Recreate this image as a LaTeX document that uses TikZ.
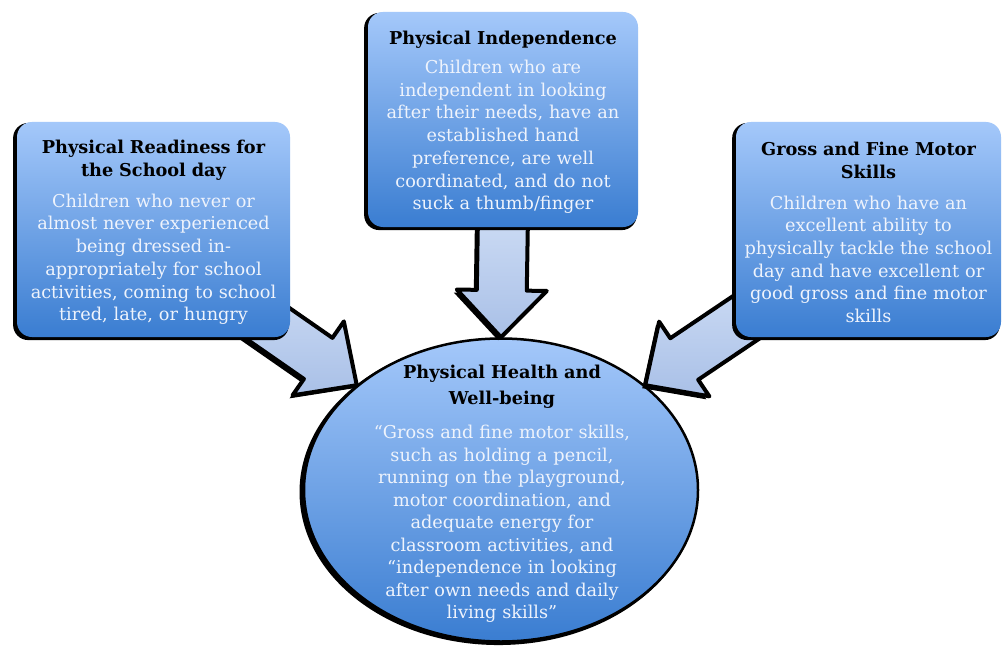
\documentclass[tikz,border=0pt]{standalone}
\usepackage{fontspec}
\setmainfont{DejaVu Serif}
\usetikzlibrary{calc,shadows,shapes.geometric}

\definecolor{boxtop}{HTML}{A4C8FA}
\definecolor{boxbottom}{HTML}{3A7DD1}
\definecolor{arrowtop}{HTML}{CCDBF4}
\definecolor{arrowbottom}{HTML}{A9C0E7}
\definecolor{bodytext}{HTML}{EEF3FC}

\newcommand{\blockarrow}[2]{% base, tip
  \path ($(#2)!47pt!(#1)$) coordinate (neck);
  \draw[fatarrow] ($(#1)!25pt!90:(#2)$) -- ($(neck)!25pt!90:(#2)$) -- ($(neck)!45pt!90:(#2)$)
    -- (#2) -- ($(neck)!45pt!-90:(#2)$) -- ($(neck)!25pt!-90:(#2)$) -- ($(#1)!25pt!-90:(#2)$) -- cycle;
}

\tikzset{
  darkshadow/.style={general shadow={fill=black, shadow xshift=-2.5pt, shadow yshift=-2pt, shadow scale=1.01}},
  infobox/.style={rectangle, rounded corners=15pt, top color=boxtop, bottom color=boxbottom,
    darkshadow, inner sep=0pt, minimum height=215pt},
  boxtext/.style={text=bodytext, align=center, inner sep=0pt, font=\fontsize{17.7}{22.7}\selectfont},
  healthball/.style={ellipse, top color=boxtop, bottom color=boxbottom, draw=black, line width=2.5pt,
    darkshadow, inner sep=0pt, minimum width=394pt, minimum height=303pt},
  fatarrow/.style={top color=arrowtop, bottom color=arrowbottom, draw=black, line width=4pt,
    line join=round, general shadow={fill=black, shadow xshift=-3pt, shadow yshift=-3pt}},
}

\begin{document}
\begin{tikzpicture}[x=1pt, y=-1pt]
\path[use as bounding box, fill=white] (0,0) rectangle (1003,650); % page

\node[healthball] (health) at (501,490) {}; % centre
\node[boxtext, text width=300pt, font=\fontsize{17.7}{22.5}\selectfont] (health-text) at (502,494)
  {{\color{black}\bfseries Physical Health and\\[3pt]Well-being}\\[12pt]
   “Gross and fine motor skills,\\such as holding a pencil,\\running on the playground,\\
   motor coordination, and\\adequate energy for\\classroom activities, and\\
   “independence in looking\\after own needs and daily\\living skills”};

\coordinate (ready-base) at (237,302);
\coordinate (indep-base) at (503,215);
\coordinate (motor-base) at (769,302);
\blockarrow{ready-base}{health.144} % left arrow
\blockarrow{indep-base}{health.north} % middle arrow
\blockarrow{motor-base}{health.36} % right arrow

\node[infobox, minimum width=273pt] (ready) at (153.5,229.5) {}; % left box
\node[boxtext, text width=269pt] (ready-text) at ($(ready)+(0,3)$)
  {{\color{black}\bfseries Physical Readiness for\\the School day}\\[8pt]
   Children who never or\\almost never experienced\\being dressed in-\\appropriately for school\\
   activities, coming to school\\tired, late, or hungry};
\node[infobox, minimum width=270pt] (indep) at (503,119.5) {}; % middle box
\node[boxtext, text width=266pt] (indep-text) at ($(indep)+(0,3)$)
  {{\color{black}\bfseries Physical Independence}\\[6pt]
   Children who are\\independent in looking\\after their needs, have an\\established hand\\
   preference, are well\\coordinated, and do not\\suck a thumb/finger};
\node[infobox, minimum width=265pt] (motor) at (868.5,229.5) {}; % right box
\node[boxtext, text width=261pt] (motor-text) at ($(motor)+(0,3)$)
  {{\color{black}\bfseries Gross and Fine Motor\\Skills}\\[8pt]
   Children who have an\\excellent ability to\\physically tackle the school\\day and have excellent or\\
   good gross and fine motor\\skills};
\end{tikzpicture}
\end{document}
